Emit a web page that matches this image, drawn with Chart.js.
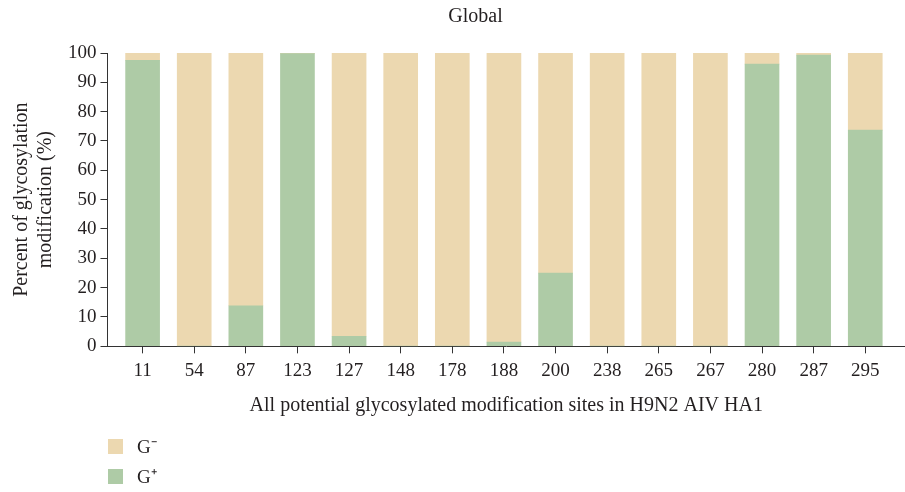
<!DOCTYPE html>
<html>
<head>
<meta charset="utf-8">
<script src="https://cdn.jsdelivr.net/npm/chart.js@4"></script>
<style>
  body { margin: 0; background: #fff; }
  #wrap { position: relative; width: 905px; height: 492px; }
  #legend { position: absolute; left: 108px; top: 431px; font-family: "Liberation Serif", serif; font-size: 19px; color: #231f20; }
  .item { display: flex; align-items: center; height: 30px; }
  .box { width: 15px; height: 15px; margin-right: 14px; }
</style>
</head>
<body>
<div id="wrap">
  <canvas id="chart" width="905" height="492"></canvas>
  <div id="legend"></div>
</div>
<script>
var sites = ['11', '54', '87', '123', '127', '148', '178', '188', '200', '238', '265', '267', '280', '287', '295'];
var gPlus = [97.5, 0, 13.8, 99.8, 3.4, 0, 0, 1.4, 24.9, 0, 0, 0, 96.2, 99.3, 73.7];
var gMinus = [2.5, 100, 86.2, 0.2, 96.6, 100, 100, 98.6, 75.1, 100, 100, 100, 3.8, 0.7, 26.3];
var yTicks = [0, 10, 20, 30, 40, 50, 60, 70, 80, 90, 100];

var serif = '"Liberation Serif", "Times New Roman", serif';
var ink = '#231f20';

function points(values) {
    return values.map(function (v, i) { return { x: i, y: v }; });
}

// title sits a bit right of the canvas centre in the original
var titlePlugin = {
    id: 'topTitle',
    afterDraw: function (chart) {
        var ctx = chart.ctx;
        ctx.save();
        ctx.font = '20px ' + serif;
        ctx.fillStyle = ink;
        ctx.textAlign = 'center';
        ctx.textBaseline = 'middle';
        ctx.fillText('Global', chart.width / 2 + 23, 17);
        ctx.restore();
    }
};

// x tick marks under each bar, placed through the x scale
var xMarks = {
    id: 'xMarks',
    afterDraw: function (chart) {
        var sc = chart.scales.x;
        var ctx = chart.ctx;
        var base = chart.chartArea.bottom;
        ctx.save();
        ctx.strokeStyle = '#333';
        ctx.lineWidth = 1;
        ctx.beginPath();
        sc.ticks.forEach(function (t) {
            var px = Math.round(sc.getPixelForValue(t.value) - 0.5) + 0.5;
            ctx.moveTo(px, base);
            ctx.lineTo(px, base + 7);
        });
        ctx.stroke();
        ctx.restore();
    }
};

var chart = new Chart(document.getElementById('chart'), {
    type: 'bar',
    data: {
        datasets: [
            { label: 'G\u207A', data: points(gPlus), backgroundColor: '#aecba6', borderWidth: 0 },
            { label: 'G\u207B', data: points(gMinus), backgroundColor: '#ecd8b0', borderWidth: 0 }
        ]
    },
    options: {
        responsive: false,
        devicePixelRatio: 1,
        animation: false,
        barThickness: 34,
        layout: { padding: { top: 53, left: 10, right: 0, bottom: 74 } },
        plugins: {
            legend: { display: false },
            tooltip: { enabled: false }
        },
        scales: {
            x: {
                type: 'linear',
                stacked: true,
                offset: false,
                min: -0.68,
                max: 14.77,
                afterBuildTicks: function (scale) {
                    scale.ticks = sites.map(function (s, i) { return { value: i }; });
                },
                ticks: {
                    autoSkip: false,
                    maxRotation: 0,
                    padding: 6,
                    color: ink,
                    font: { family: serif, size: 19 },
                    callback: function (v) { return sites[v]; }
                },
                grid: { offset: false, drawOnChartArea: false, tickLength: 7, color: '#333' },
                border: { color: '#333', width: 1 },
                title: {
                    display: true,
                    text: 'All potential glycosylated modification sites in H9N2 AIV HA1',
                    color: ink,
                    font: { family: serif, size: 20 },
                    padding: { top: 6, bottom: 0 }
                }
            },
            y: {
                stacked: true,
                min: 0,
                max: 100,
                afterBuildTicks: function (scale) {
                    scale.ticks = yTicks.map(function (v) { return { value: v }; });
                },
                ticks: {
                    padding: 4,
                    color: ink,
                    font: { family: serif, size: 19 }
                },
                grid: { drawOnChartArea: false, tickLength: 7, color: '#333' },
                border: { color: '#333', width: 1 },
                title: {
                    display: true,
                    text: ['Percent of glycosylation', 'modification (%)'],
                    color: ink,
                    font: { family: serif, size: 20, lineHeight: 1.2 },
                    padding: { top: 0, bottom: 6 }
                }
            }
        }
    },
    plugins: [titlePlugin, xMarks]
});

// legend listed top-down in reverse stacking order
var legend = document.getElementById('legend');
chart.data.datasets.slice().reverse().forEach(function (ds) {
    var item = document.createElement('div');
    item.className = 'item';
    var box = document.createElement('span');
    box.className = 'box';
    box.style.background = ds.backgroundColor;
    var label = document.createElement('span');
    label.textContent = ds.label;
    item.append(box, label);
    legend.append(item);
});
</script>
</body>
</html>
